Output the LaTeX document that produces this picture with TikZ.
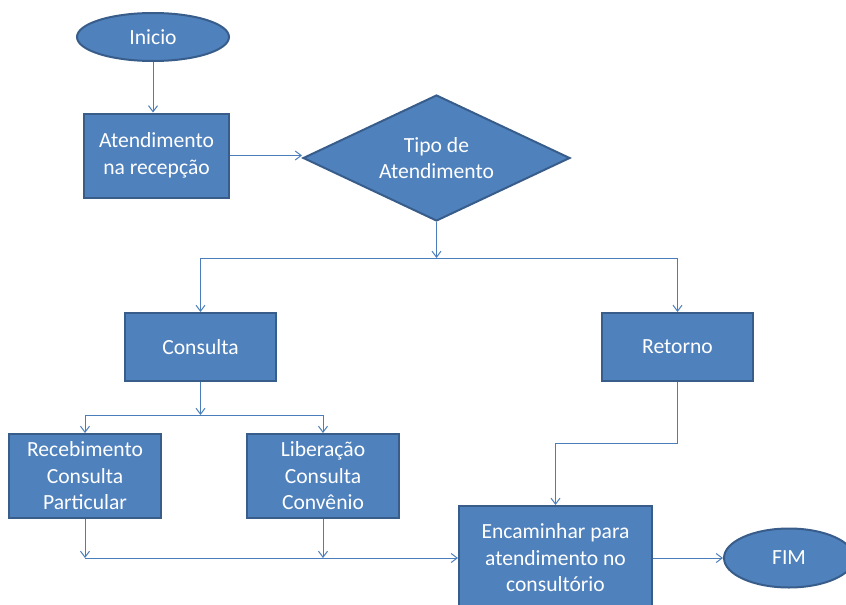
\documentclass[tikz,border=0pt]{standalone}
\usepackage{fontspec}
\setmainfont{Carlito}
\usetikzlibrary{arrows.meta,positioning,shapes.geometric}
\definecolor{boxfill}{RGB}{79,129,189}
\definecolor{boxedge}{RGB}{56,93,138}
\definecolor{linkcol}{RGB}{74,126,187}
\tikzset{
  blk/.style={draw=boxedge, fill=boxfill, line width=2pt, text=white, align=center,
    inner sep=0pt, font=\fontsize{21.6}{26.5}\selectfont},
  proc/.style={blk, rectangle, minimum width=#1, minimum height=84},
  proc/.default=151,
  term/.style={blk, ellipse},
  dec/.style={blk, diamond, aspect=2.12, minimum width=267, minimum height=126},
  conn/.style={-{Straight Barb[length=6pt,width=9pt]}, linkcol, line width=1pt},
  wire/.style={linkcol, line width=1pt},
}
\begin{document}
\begin{tikzpicture}[x=1pt, y=-1pt]
\useasboundingbox (0,0) rectangle (846,605);
\clip (0,0) rectangle (846,605);
% nodes
\node[term, minimum width=152, minimum height=48] (inicio) at (153,37) {Inicio};
\node[proc=145] (recep) at (156.5,155.5) {Atendimento\\na recepção};
\node[dec] (tipo) at (436.5,158) {Tipo de\\Atendimento};
\node[proc, minimum height=68] (consulta) at (200.5,347) {Consulta};
\node[proc, minimum height=68] (retorno) at (677.5,347) {Retorno};
\node[proc=152] (receb) at (85,476) {Recebimento\\Consulta\\Particular};
\node[proc=152] (liber) at (323,476) {Liberação\\Consulta\\Convênio};
\node[proc=193, minimum height=104] (encam) at (555.5,558) {Encaminhar para\\atendimento no\\consultório};
\node[term, minimum width=130, minimum height=59] (fim) at (789,558) {FIM};
% junctions
\coordinate (split) at (436.5,258);
\coordinate (split2) at (200.5,415);
\coordinate (join) at (85,558);
\coordinate (bend) at (677.5,443);
% connectors
\draw[conn] (inicio.south) -- (inicio.south |- recep.north);
\draw[conn] (recep.east) -- (recep.east -| tipo.west);
\draw[conn] (tipo.south) -- (split);
\draw[conn] (split) -| (consulta.north);
\draw[conn] (split) -| (retorno.north);
\draw[conn] (consulta.south) -- (split2);
\draw[conn] (split2) -| (receb.north);
\draw[conn] (split2) -| (liber.north);
\draw[conn] (receb.south) -- (join);
\draw[conn] (liber.south) -- (liber.south |- join);
\draw[conn] (join) -- (encam.west);
\draw[wire] (retorno.south) -- (bend);
\draw[conn] (bend) -| (encam.north);
\draw[conn] (encam.east) -- (fim.west);
\end{tikzpicture}
\end{document}
